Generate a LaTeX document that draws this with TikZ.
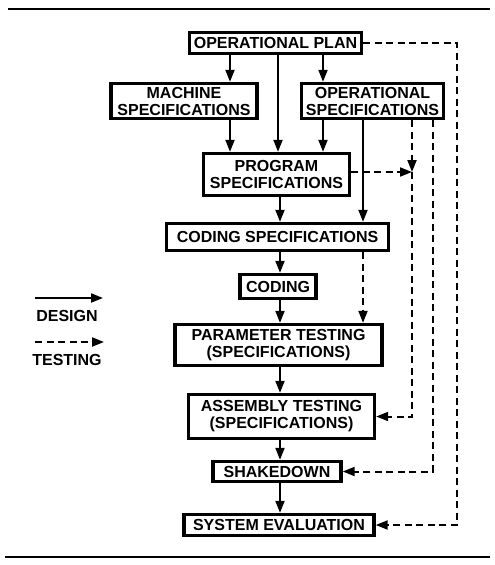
\documentclass[tikz,border=0pt]{standalone}
\usepackage{fontspec}
\setmainfont{Liberation Sans}
\usetikzlibrary{arrows.meta}
\begin{document}
\begin{tikzpicture}[x=1pt,y=-1pt,
  box/.style={draw,line width=3.4pt,inner sep=0pt,align=center,
    font=\fontsize{16}{17}\selectfont\bfseries},
  design/.style={line width=2pt,-{Triangle[length=12pt,width=9pt]}},
  testing/.style={line width=2pt,dash pattern=on 7pt off 4.5pt,-{Triangle[length=12pt,width=9pt]}},
  legtext/.style={font=\fontsize{16}{17}\selectfont\bfseries}]
\useasboundingbox (0,0) rectangle (495,565);
\coordinate (tl) at (8,9); \coordinate (tr) at (490,9);
\coordinate (bl) at (5,557); \coordinate (br) at (490,557);
\draw[line width=1.6pt] (tl) -- (tr);
\draw[line width=1.6pt] (bl) -- (br);
% boxes
\node[box,minimum width=172pt,minimum height=21pt] (op) at (275.5,43) {OPERATIONAL PLAN};
\node[box,minimum width=146pt,minimum height=35pt] (mach) at (184,101) {MACHINE\\SPECIFICATIONS};
\node[box,minimum width=142pt,minimum height=35pt] (ops) at (372.5,101) {OPERATIONAL\\SPECIFICATIONS};
\node[box,minimum width=146pt,minimum height=42pt] (prog) at (276.5,174.5) {PROGRAM\\SPECIFICATIONS};
\node[box,minimum width=222pt,minimum height=27pt] (cspec) at (277.5,237) {CODING SPECIFICATIONS};
\node[box,minimum width=76pt,minimum height=24pt] (cod) at (278,286.5) {CODING};
\node[box,minimum width=207pt,minimum height=41pt] (par) at (278.5,345) {PARAMETER TESTING\\(SPECIFICATIONS)};
\node[box,minimum width=186pt,minimum height=44pt] (asm) at (281.5,416.5) {ASSEMBLY TESTING\\(SPECIFICATIONS)};
\node[box,minimum width=128pt,minimum height=20pt] (shk) at (277,471.5) {SHAKEDOWN};
\node[box,minimum width=190pt,minimum height=21pt] (sev) at (279,525) {SYSTEM EVALUATION};
% x positions of connectors
\coordinate (xa) at (230,0);
\coordinate (xb) at (278,0);
\coordinate (xc) at (323,0);
\coordinate (xd) at (280,0);
\coordinate (xe) at (363,0);
\coordinate (xf) at (412,0);
\coordinate (xg) at (433,0);
\coordinate (xh) at (457,0);
\coordinate (yj) at (0,172);
% design connectors
\draw[design] (op.south -| xa) -- (mach.north -| xa);
\draw[design] (op.south -| xb) -- (prog.north -| xb);
\draw[design] (op.south -| xc) -- (ops.north -| xc);
\draw[design] (mach.south -| xa) -- (prog.north -| xa);
\draw[design] (ops.south -| xc) -- (prog.north -| xc);
\draw[design] (ops.south -| xe) -- (cspec.north -| xe);
\draw[design] (prog.south -| xd) -- (cspec.north -| xd);
\draw[design] (cspec.south -| xd) -- (cod.north -| xd);
\draw[design] (cod.south -| xd) -- (par.north -| xd);
\draw[design] (par.south -| xd) -- (asm.north -| xd);
\draw[design] (asm.south -| xd) -- (shk.north -| xd);
\draw[design] (shk.south -| xd) -- (sev.north -| xd);
% testing connectors
\coordinate (junc) at (xf |- yj);
\draw[testing] (ops.south -| xf) -- (junc);
\draw[testing] (prog.east |- yj) -- (junc);
\draw[testing] (junc) -- (xf |- asm.east) -- (asm.east);
\draw[testing] (ops.south -| xg) -- (xg |- shk.east) -- (shk.east);
\draw[testing] (op.east) -- (xh |- op.east) -- (xh |- sev.east) -- (sev.east);
\draw[testing] (cspec.south -| xe) -- (par.north -| xe);
% legend
\coordinate (l1a) at (35,298); \coordinate (l1b) at (103,298);
\coordinate (l2a) at (35,342); \coordinate (l2b) at (104,342);
\draw[design] (l1a) -- (l1b);
\draw[testing] (l2a) -- (l2b);
\node[legtext] (ldes) at (67,316) {DESIGN};
\node[legtext] (ltest) at (67,360) {TESTING};
\end{tikzpicture}
\end{document}
